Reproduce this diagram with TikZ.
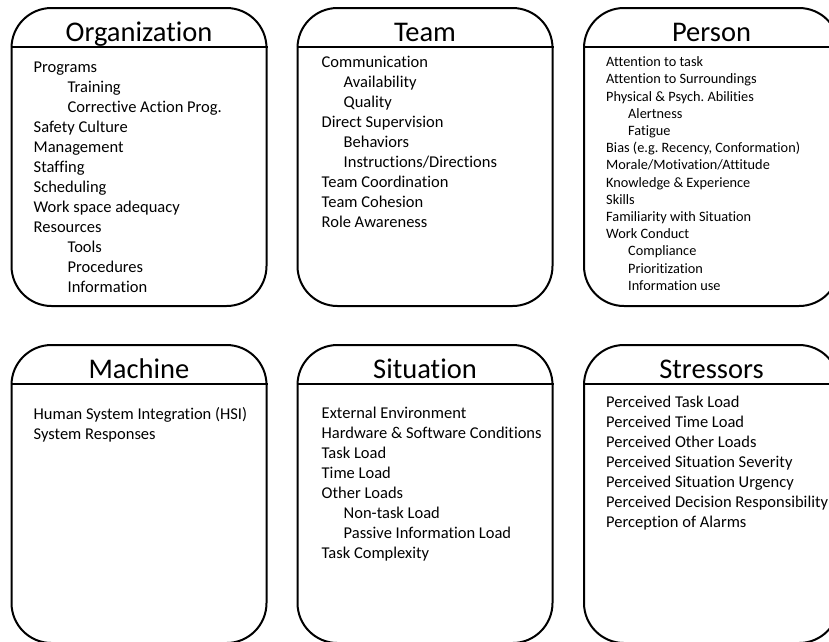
\documentclass[tikz,border=0pt]{standalone}
\usepackage{fontspec}
\setmainfont{Carlito}[Ligatures={NoCommon}]
\frenchspacing

\tikzset{
  panel/.style={draw,line width=2pt,rounded corners=40pt,minimum width=255pt,minimum height=298pt,inner sep=0pt},
  rule/.style={line width=2pt},
  title/.style={anchor=base,inner sep=0pt,font=\fontsize{28.5}{32}\selectfont},
  item/.style={anchor=base west,inner sep=0pt,font=\fontsize{16.5}{20}\selectfont},
  small item/.style={item,font=\fontsize{14.3}{17}\selectfont}
}

\begin{document}
\begin{tikzpicture}[x=1pt,y=-1pt,line join=round]
\useasboundingbox (0,0) rectangle (829,641);
% the six panels
\node[panel] (org) at (139,157) {};
\node[panel] (team) at (425,157) {};
\node[panel] (person) at (711.5,157) {};
\node[panel] (machine) at (139,494) {};
\node[panel] (situation) at (425,494) {};
\node[panel] (stressors) at (711.5,494) {};
% headers
\foreach \p/\t in {org/Organization,team/Team,person/Person,machine/Machine,situation/Situation,stressors/Stressors}
{
\node[title] (\p-title) at ([yshift=-34pt]\p.north) {\t};
\draw[rule] ([yshift=-40pt]\p.north west) -- ([yshift=-40pt]\p.north east);
}
% Organization
\foreach \d/\t [count=\i] in {0/Programs,1/Training,1/Corrective Action Prog.,0/Safety Culture,0/Management,0/Staffing,0/Scheduling,0/Work space adequacy,0/Resources,1/Tools,1/Procedures,1/Information}
{
\node[item] (org-\i) at ([shift={(23+34*\d,45+20*\i)}]org.north west) {\t};
}
% Team
\foreach \d/\t [count=\i] in {0/Communication,1/Availability,1/Quality,0/Direct Supervision,1/Behaviors,1/{Instructions/Directions},0/Team Coordination,0/Team Cohesion,0/Role Awareness}
{
\node[item] (team-\i) at ([shift={(25+22*\d,40.5+20*\i)}]team.north west) {\t};
}
% Person
\foreach \d/\t [count=\i] in {0/Attention to task,0/Attention to Surroundings,0/{Physical \& Psych. Abilities},1/Alertness,1/Fatigue,0/{Bias (e.g. Recency, Conformation)},0/{Morale/Motivation/Attitude},0/{Knowledge \& Experience},0/Skills,0/Familiarity with Situation,0/Work Conduct,1/Compliance,1/Prioritization,1/Information use}
{
\node[small item] (person-\i) at ([shift={(23+22*\d,42.5+17.2*\i)}]person.north west) {\t};
}
% Machine
\foreach \d/\t [count=\i] in {0/Human System Integration (HSI),0/System Responses}
{
\node[item] (machine-\i) at ([shift={(23+22*\d,55.5+20*\i)}]machine.north west) {\t};
}
% Situation
\foreach \d/\t [count=\i] in {0/External Environment,0/{Hardware \& Software Conditions},0/Task Load,0/Time Load,0/Other Loads,1/Non-task Load,1/Passive Information Load,0/Task Complexity}
{
\node[item] (situation-\i) at ([shift={(25+22*\d,54.5+20*\i)}]situation.north west) {\t};
}
% Stressors
\foreach \d/\t [count=\i] in {0/Perceived Task Load,0/Perceived Time Load,0/Perceived Other Loads,0/Perceived Situation Severity,0/Perceived Situation Urgency,0/Perceived Decision Responsibility,0/Perception of Alarms}
{
\node[item] (stressors-\i) at ([shift={(23+22*\d,43.5+20*\i)}]stressors.north west) {\t};
}
\end{tikzpicture}
\end{document}
